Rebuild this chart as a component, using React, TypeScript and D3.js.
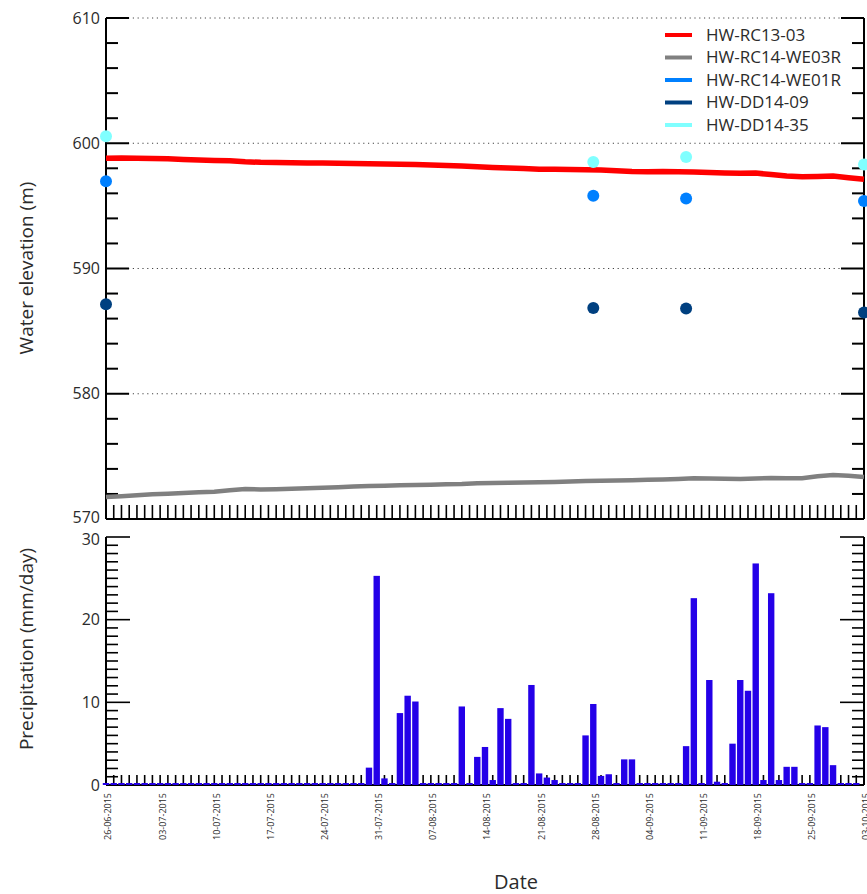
import React, { useRef, useEffect } from 'react';
import * as d3 from 'd3';

// water levels, logger records read every 2 days from 26-06-2015
const levelStart = '26-06-2015';
const levelStepDays = 2;
const rc1303 = [
  598.80, 598.82, 598.80, 598.78, 598.76, 598.70, 598.66, 598.62, 598.60, 598.52,
  598.48, 598.47, 598.44, 598.43, 598.42, 598.40, 598.38, 598.37, 598.35, 598.33,
  598.30, 598.26, 598.22, 598.18, 598.12, 598.07, 598.03, 597.98, 597.93, 597.92,
  597.90, 597.88, 597.86, 597.80, 597.74, 597.72, 597.74, 597.72, 597.70, 597.66,
  597.62, 597.60, 597.62, 597.50, 597.38, 597.33, 597.35, 597.38, 597.25, 597.12,
];
const rc14we03r = [
  571.75, 571.82, 571.90, 571.98, 572.02, 572.08, 572.14, 572.18, 572.30, 572.40,
  572.36, 572.38, 572.42, 572.46, 572.50, 572.54, 572.60, 572.63, 572.66, 572.70,
  572.72, 572.74, 572.78, 572.80, 572.85, 572.87, 572.90, 572.92, 572.94, 572.96,
  573.00, 573.04, 573.06, 573.08, 573.10, 573.14, 573.16, 573.20, 573.26, 573.24,
  573.22, 573.20, 573.24, 573.28, 573.26, 573.26, 573.42, 573.52, 573.46, 573.36,
];

// manual dips
const manualDates = ['26-06-2015', '28-08-2015', '09-09-2015', '02-10-2015'];
const rc14we01r = [596.97, 595.80, 595.58, 595.38];
const dd1409 = [587.15, 586.85, 586.80, 586.48];
const dd1435 = [600.55, 598.50, 598.90, 598.30];

// daily precipitation (mm/day) from 26-06-2015, one row per week
const precipStart = '26-06-2015';
const precip = [
  0, 0, 0, 0, 0, 0, 0,
  0, 0, 0, 0, 0, 0, 0,
  0, 0, 0, 0, 0, 0, 0,
  0, 0, 0, 0, 0, 0, 0,
  0, 0, 0, 0, 0, 0, 2.1,
  25.3, 0.8, 0, 8.7, 10.8, 10.1, 0,
  0, 0, 0, 0, 9.5, 0, 3.4,
  4.6, 0.6, 9.3, 8.0, 0, 0, 12.1,
  1.4, 0.9, 0.6, 0, 0, 0, 6.0,
  9.8, 1.1, 1.3, 0, 3.1, 3.1, 0,
  0, 0, 0, 0, 0, 4.7, 22.6,
  0, 12.7, 0.4, 0, 5.0, 12.7, 11.4,
  26.8, 0.6, 23.2, 0.6, 2.2, 2.2, 0,
  0, 7.2, 7.0, 2.4, 0, 0, 0,
];

const tickDates = [
  '26-06-2015', '03-07-2015', '10-07-2015', '17-07-2015', '24-07-2015',
  '31-07-2015', '07-08-2015', '14-08-2015', '21-08-2015', '28-08-2015',
  '04-09-2015', '11-09-2015', '18-09-2015', '25-09-2015', '03-10-2015',
];
const axisEnd = '02-10-2015';

const wells = [
  { name: 'HW-RC13-03', color: '#ff0000' },
  { name: 'HW-RC14-WE03R', color: '#808080' },
  { name: 'HW-RC14-WE01R', color: '#0080ff' },
  { name: 'HW-DD14-09', color: '#004080' },
  { name: 'HW-DD14-35', color: '#80ffff' },
];

const barColor = '#2400e8';
const textColor = '#2b2b2b';
const font = '"Open Sans", "Noto Sans", sans-serif';

function App() {
  const svgRef = useRef<SVGSVGElement>(null);

  useEffect(() => {
    const width = 867;
    const height = 894;
    const left = 106;
    const right = 864;
    const parse = d3.utcParse('%d-%m-%Y');

    const svg = d3.select(svgRef.current).attr('width', width).attr('height', height);
    svg.selectAll('*').remove();

    const t0 = parse(levelStart) as Date;
    const tEnd = parse(axisEnd) as Date;

    // clamp: the last label sits on the axis end
    const x = d3.scaleUtc().domain([t0, tEnd]).range([left, right]).clamp(true);
    const yTop = d3.scaleLinear().domain([570, 610]).range([519, 18]);
    const yBot = d3.scaleLinear().domain([0, 30]).range([785, 537]);

    const days = d3.utcDay.range(t0, d3.utcDay.offset(tEnd, 1));

    // ---------- top panel ----------
    const top = svg.append('g');

    // dotted grid
    top.selectAll('line.grid')
      .data([580, 590, 600, 610])
      .enter().append('line')
      .attr('x1', left + 22).attr('x2', right - 24)
      .attr('y1', d => yTop(d)).attr('y2', d => yTop(d))
      .attr('stroke', '#444').attr('stroke-width', 1)
      .attr('stroke-dasharray', '1.2,3.6');

    const topTicks = d3.range(570, 611, 2);
    [{ x0: left, dir: 1 }, { x0: right, dir: -1 }].forEach(side => {
      top.append('line')
        .attr('x1', side.x0).attr('x2', side.x0)
        .attr('y1', yTop(610)).attr('y2', yTop(570))
        .attr('stroke', '#000').attr('stroke-width', 2);
      top.selectAll(null)
        .data(topTicks)
        .enter().append('line')
        .attr('x1', side.x0)
        .attr('x2', d => side.x0 + side.dir * (d % 10 === 0 ? 23 : 12))
        .attr('y1', d => yTop(d)).attr('y2', d => yTop(d))
        .attr('stroke', '#000').attr('stroke-width', 2);
    });

    top.selectAll('text.ytick')
      .data([570, 580, 590, 600, 610])
      .enter().append('text')
      .attr('x', left - 6).attr('y', d => yTop(d) - (d === 570 ? 2 : 0))
      .attr('dy', '0.35em')
      .attr('text-anchor', 'end')
      .attr('font-size', 16).attr('font-family', font).attr('fill', textColor)
      .text(d => d);

    // bottom axis with daily ticks
    top.append('line')
      .attr('x1', left).attr('x2', right)
      .attr('y1', yTop(570)).attr('y2', yTop(570))
      .attr('stroke', '#000').attr('stroke-width', 2);
    top.selectAll(null)
      .data(days)
      .enter().append('line')
      .attr('x1', d => x(d)).attr('x2', d => x(d))
      .attr('y1', yTop(570)).attr('y2', yTop(570) - 14)
      .attr('stroke', '#000').attr('stroke-width', 1.6);

    const levelDate = (i: number) => d3.utcDay.offset(t0, i * levelStepDays);
    const line = d3.line<number>()
      .x((d, i) => x(levelDate(i)))
      .y(d => yTop(d));

    top.append('path')
      .datum(rc14we03r)
      .attr('d', line)
      .attr('fill', 'none')
      .attr('stroke', wells[1].color)
      .attr('stroke-width', 4.5);

    top.append('path')
      .datum(rc1303)
      .attr('d', line)
      .attr('fill', 'none')
      .attr('stroke', wells[0].color)
      .attr('stroke-width', 5.5);

    const dots = [
      { values: rc14we01r, color: wells[2].color },
      { values: dd1409, color: wells[3].color },
      { values: dd1435, color: wells[4].color },
    ];
    dots.forEach(s => {
      top.selectAll(null)
        .data(s.values)
        .enter().append('circle')
        .attr('cx', (d, i) => x(parse(manualDates[i]) as Date))
        .attr('cy', d => yTop(d))
        .attr('r', 6)
        .attr('fill', s.color);
    });

    // legend
    const legend = top.append('g').attr('transform', 'translate(665, 35)');
    const item = legend.selectAll('g')
      .data(wells)
      .enter().append('g')
      .attr('transform', (d, i) => `translate(0, ${i * 22.5})`);
    item.append('line')
      .attr('x1', 0).attr('x2', 27)
      .attr('stroke', d => d.color).attr('stroke-width', 4);
    item.append('text')
      .attr('x', 41).attr('dy', '0.35em')
      .attr('font-size', 17).attr('font-family', font).attr('fill', textColor)
      .text(d => d.name);

    // ---------- bottom panel ----------
    const bot = svg.append('g');
    const botTicks = d3.range(0, 31, 1);
    [{ x0: left, dir: 1 }, { x0: right, dir: -1 }].forEach(side => {
      bot.append('line')
        .attr('x1', side.x0).attr('x2', side.x0)
        .attr('y1', yBot(30)).attr('y2', yBot(0))
        .attr('stroke', '#000').attr('stroke-width', 2);
      bot.selectAll(null)
        .data(botTicks)
        .enter().append('line')
        .attr('x1', side.x0)
        .attr('x2', d => side.x0 + side.dir * (d % 10 === 0 ? 24 : 12))
        .attr('y1', d => yBot(d)).attr('y2', d => yBot(d))
        .attr('stroke', '#000').attr('stroke-width', 1.6);
    });

    bot.selectAll('text.ytick')
      .data([0, 10, 20, 30])
      .enter().append('text')
      .attr('x', left - 6).attr('y', d => yBot(d) + (d === 30 ? 2 : 0))
      .attr('dy', '0.35em')
      .attr('text-anchor', 'end')
      .attr('font-size', 16).attr('font-family', font).attr('fill', textColor)
      .text(d => d);

    bot.append('line')
      .attr('x1', left).attr('x2', right)
      .attr('y1', yBot(0)).attr('y2', yBot(0))
      .attr('stroke', '#000').attr('stroke-width', 2);
    bot.selectAll(null)
      .data(days)
      .enter().append('line')
      .attr('x1', d => x(d)).attr('x2', d => x(d))
      .attr('y1', yBot(0)).attr('y2', yBot(0) - 10)
      .attr('stroke', '#000').attr('stroke-width', 1.6);

    const p0 = parse(precipStart) as Date;
    const barW = 6.4;
    bot.selectAll('rect.bar')
      .data(precip)
      .enter().append('rect')
      .attr('x', (d, i) => x(d3.utcDay.offset(p0, i)) - barW / 2)
      .attr('width', barW)
      .attr('y', d => Math.min(yBot(d), yBot(0) - 2))
      .attr('height', d => Math.max(yBot(0) - yBot(d), 2))
      .attr('fill', barColor);

    // date labels
    svg.selectAll('text.xtick')
      .data(tickDates)
      .enter().append('text')
      .attr('transform', d => `translate(${x(parse(d) as Date)}, 793) rotate(-90)`)
      .attr('dy', '0.6em')
      .attr('text-anchor', 'end')
      .attr('font-size', 9).attr('font-family', font).attr('fill', textColor)
      .text(d => d);

    // axis titles
    svg.append('text')
      .attr('transform', 'translate(26, 268) rotate(-90)')
      .attr('text-anchor', 'middle').attr('dy', '0.35em')
      .attr('font-size', 19).attr('font-family', font).attr('fill', textColor)
      .text('Water elevation (m)');
    svg.append('text')
      .attr('transform', 'translate(26, 649) rotate(-90)')
      .attr('text-anchor', 'middle').attr('dy', '0.35em')
      .attr('font-size', 19).attr('font-family', font).attr('fill', textColor)
      .text('Precipitation (mm/day)');
    svg.append('text')
      .attr('x', 516).attr('y', 882)
      .attr('text-anchor', 'middle').attr('dy', '0.35em')
      .attr('font-size', 20).attr('font-family', font).attr('fill', textColor)
      .text('Date');
  }, []);

  return (
    <svg
      ref={svgRef}
      style={{ position: 'absolute', left: 0, top: 0, background: '#fff' }}
    />
  );
}

export default App;
